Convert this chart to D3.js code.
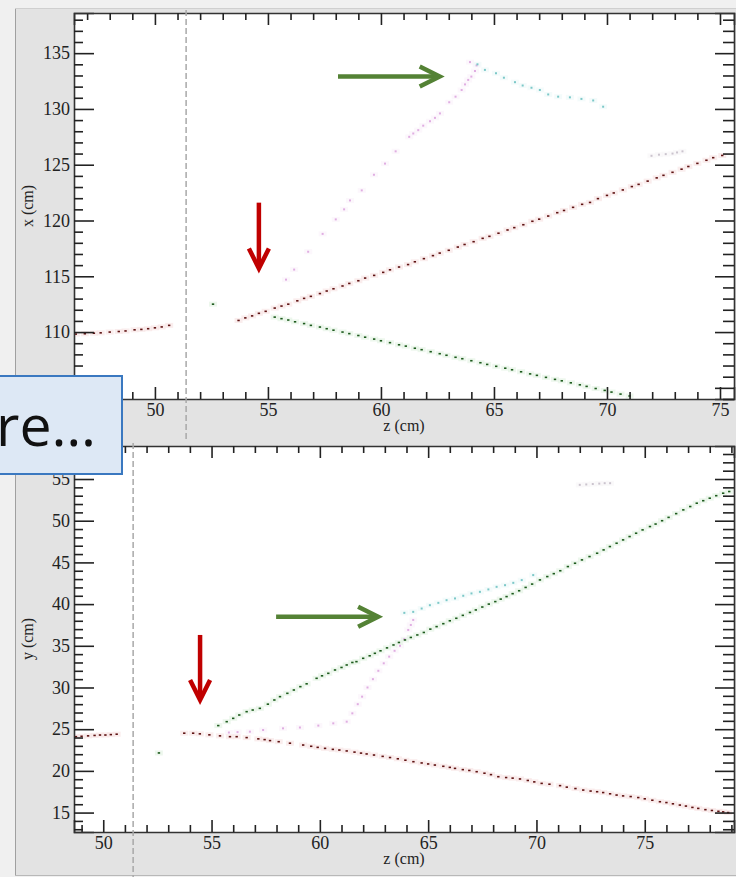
<!DOCTYPE html>
<html>
<head>
<meta charset="utf-8">
<script src="https://cdn.jsdelivr.net/npm/d3@7"></script>
<style>
  body { margin: 0; background: #f0f0f0; }
  svg { display: block; }
</style>
</head>
<body>
<svg id="chart" width="736" height="877"></svg>
<script>
// ---- top panel: x vs z ----
const topRedLeft = [[46.5,109.82],[46.9,109.85],[47.3,109.9],[47.6,109.93],[48.0,110.0],[48.4,110.05],[48.7,110.1],[49.1,110.2],[49.4,110.24],[49.7,110.3],[50.0,110.38],[50.3,110.46],[50.63,110.6]];
const topRedMain = [[53.7,111.04],[54.0,111.27],[54.3,111.45],[54.6,111.68],[54.9,111.86],[55.3,112.15],[55.6,112.33],[55.9,112.5],[56.3,112.8],[56.6,113.02],[56.9,113.2],[57.3,113.45],[57.6,113.68],[57.9,113.88],[58.3,114.13],[58.6,114.36],[59.0,114.6],[59.3,114.84],[59.7,115.08],[60.1,115.35],[60.4,115.58],[60.8,115.83],[61.2,116.05],[61.5,116.3],[61.9,116.58],[62.3,116.85],[62.6,117.08],[63.0,117.33],[63.4,117.62],[63.7,117.85],[64.1,118.1],[64.5,118.4],[64.8,118.58],[65.2,118.86],[65.6,119.15],[65.9,119.36],[66.3,119.62],[66.7,119.93],[67.0,120.12],[67.4,120.4],[67.8,120.7],[68.1,120.9],[68.5,121.18],[68.9,121.45],[69.25,121.62],[69.6,121.96],[70.0,122.25],[70.3,122.47],[70.7,122.74],[71.1,123.04],[71.4,123.24],[71.8,123.53],[72.2,123.82],[72.5,124.05],[72.9,124.32],[73.3,124.6],[73.6,124.84],[74.0,125.12],[74.4,125.4],[74.7,125.63],[75.1,125.83]];
const topGreen = [[55.3,111.34],[55.6,111.2],[55.9,111.08],[56.2,110.92],[56.6,110.76],[56.9,110.6],[57.3,110.45],[57.6,110.3],[57.9,110.17],[58.3,110.0],[58.6,109.86],[59.0,109.69],[59.3,109.54],[59.7,109.37],[60.0,109.22],[60.4,109.05],[60.8,108.86],[61.1,108.74],[61.5,108.55],[61.8,108.42],[62.2,108.24],[62.6,108.06],[62.9,107.92],[63.3,107.74],[63.6,107.61],[64.0,107.43],[64.4,107.25],[64.7,107.1],[65.1,106.93],[65.5,106.76],[65.8,106.62],[66.2,106.44],[66.6,106.25],[66.9,106.12],[67.3,105.94],[67.7,105.76],[68.0,105.63],[68.4,105.45],[68.8,105.27],[69.1,105.13],[69.5,104.94],[69.9,104.77],[70.2,104.62],[70.6,104.44],[71.0,104.27]];
const topGreenDot = [[52.57,112.5]];
const topPink = [[55.8,114.7],[56.16,115.6],[56.78,117.2],[57.42,118.8],[58.0,120.1],[58.37,121.0],[58.63,121.8],[59.15,122.7],[59.69,124.1],[60.18,125.1],[60.65,126.2],[61.25,127.5],[61.43,127.8],[61.65,128.1],[61.87,128.5],[62.17,128.9],[62.39,129.2],[62.61,129.6],[63.02,130.6],[63.3,131.1],[63.57,131.7],[63.72,132.2],[63.86,132.6],[64.0,132.9],[64.16,133.4],[64.23,133.9],[63.94,134.2]];
const topCyan = [[64.27,134.0],[64.6,133.5],[65.09,133.2],[65.44,132.8],[65.93,132.4],[66.27,132.1],[66.66,131.9],[67.03,131.7],[67.4,131.3],[67.84,131.1],[68.36,131.04],[68.87,130.9],[69.39,130.76],[69.83,130.2]];
const topGray = [[71.97,125.8],[72.3,125.9],[72.6,125.95],[72.9,126.0],[73.1,126.1],[73.34,126.2]];

// ---- bottom panel: y vs z ----
const botRedLeft = [[48.74,24.1],[49.0,24.15],[49.3,24.2],[49.6,24.25],[49.85,24.3],[50.1,24.3],[50.35,24.35],[50.62,24.4]];
const botRedMain = [[53.74,24.52],[54.15,24.52],[54.46,24.44],[54.9,24.32],[55.39,24.2],[55.85,24.1],[56.16,24.1],[56.62,23.99],[57.16,23.84],[57.45,23.75],[57.7,23.63],[58.1,23.5],[58.62,23.32],[59.23,23.1],[59.6,22.95],[59.9,22.82],[60.24,22.7],[60.6,22.58],[60.9,22.5],[61.24,22.39],[61.6,22.25],[61.9,22.13],[62.16,22.03],[62.5,21.9],[62.9,21.74],[63.24,21.6],[63.6,21.45],[63.95,21.28],[64.32,21.1],[64.7,20.95],[65.0,20.83],[65.31,20.7],[65.7,20.55],[66.0,20.42],[66.24,20.3],[66.6,20.15],[66.9,20.05],[67.24,19.9],[67.6,19.72],[67.9,19.55],[68.24,19.3],[68.6,19.2],[68.9,19.13],[69.24,19.03],[69.6,18.85],[69.9,18.68],[70.24,18.5],[70.6,18.4],[71.09,18.23],[71.4,18.05],[71.8,17.88],[72.16,17.7],[72.5,17.58],[72.8,17.5],[73.08,17.4],[73.4,17.25],[73.7,17.1],[74.0,17.0],[74.35,16.92],[74.7,16.8],[75.0,16.65],[75.35,16.48],[75.7,16.3],[76.0,16.2],[76.3,16.05],[76.62,15.9],[76.9,15.78],[77.2,15.62],[77.47,15.5],[77.8,15.35],[78.1,15.25],[78.4,15.15],[78.62,15.08],[78.85,15.0]];
const botGreen = [[55.31,25.43],[55.7,25.9],[56.0,26.3],[56.28,26.7],[56.62,27.1],[56.9,27.3],[57.23,27.5],[57.6,28.0],[57.9,28.5],[58.16,28.9],[58.5,29.3],[58.8,29.7],[59.1,30.1],[59.39,30.44],[59.85,31.1],[60.1,31.4],[60.39,31.7],[60.7,32.1],[61.0,32.4],[61.24,32.7],[61.5,33.0],[61.69,33.1],[62.0,33.5],[62.3,33.8],[62.54,34.1],[62.8,34.4],[63.1,34.75],[63.4,35.1],[63.65,35.4],[63.93,35.7],[64.2,36.0],[64.5,36.3],[64.8,36.6],[65.1,37.0],[65.39,37.3],[65.7,37.65],[66.0,38.0],[66.3,38.3],[66.6,38.65],[66.93,39.0],[67.2,39.3],[67.5,39.65],[67.8,40.0],[68.1,40.3],[68.35,40.6],[68.62,40.9],[68.9,41.25],[69.2,41.6],[69.5,42.0],[69.8,42.4],[70.16,42.9],[70.5,43.3],[70.8,43.65],[71.1,44.0],[71.45,44.5],[71.78,44.9],[72.1,45.3],[72.45,45.7],[72.8,46.1],[73.1,46.5],[73.39,46.9],[73.7,47.3],[74.0,47.7],[74.3,48.1],[74.6,48.5],[74.9,48.9],[75.24,49.3],[75.5,49.6],[75.8,50.0],[76.1,50.4],[76.45,50.85],[76.78,51.3],[77.1,51.7],[77.4,52.1],[77.7,52.4],[78.0,52.7],[78.3,53.0],[78.62,53.3],[78.9,53.5]];
const botGreenDot = [[52.57,22.15]];
const botPink = [[55.8,24.6],[56.2,24.65],[56.77,24.7],[57.38,24.9],[58.3,25.1],[59.08,25.2],[59.93,25.43],[60.62,25.7],[61.24,25.9],[61.5,26.9],[61.75,28.0],[61.95,28.9],[62.2,30.0],[62.45,31.0],[62.7,32.0],[62.95,32.9],[63.2,33.7],[63.45,34.4],[63.7,35.0],[63.9,35.8],[64.08,36.9],[64.2,37.5],[64.31,38.1]];
const botCyan = [[63.9,38.95],[64.31,39.07],[64.7,39.47],[65.08,39.87],[65.47,40.15],[65.85,40.47],[66.24,40.68],[66.62,41.0],[67.0,41.28],[67.39,41.47],[67.78,41.76],[68.16,42.07],[68.55,42.27],[68.93,42.55],[69.32,42.88],[69.85,43.48]];
const botGray = [[72.0,54.3],[72.3,54.35],[72.6,54.4],[72.9,54.45],[73.15,54.5],[73.4,54.5]];

// dashed marker position (z) and annotation arrows in data units
const dashZ = 51.38;
const topArrows = [{from: [58.1, 132.9], to: [62.6, 132.9], color: '#548235'}, {from: [54.6, 121.6], to: [54.6, 115.7], color: '#c00000'}];
const botArrows = [{from: [57.98, 38.47], to: [62.69, 38.47], color: '#548235'}, {from: [54.47, 36.3], to: [54.47, 28.5], color: '#c00000'}];

const styles = {
  red:   {core: '#5e1212', halo: '#f8e6e6', w: 2.4, h: 1.6},
  green: {core: '#1c5a1c', halo: '#e6f4e6', w: 2.4, h: 1.6},
  pink:  {core: '#e0aee2', halo: '#fbf3fb', w: 2, h: 2},
  cyan:  {core: '#7cc8c8', halo: '#f0f9f9', w: 2, h: 2},
  gray:  {core: '#cbc4ce', halo: '#f8f6f8', w: 2, h: 2}
};

const svg = d3.select('#chart');

// frames
svg.append('rect').attr('x', 15).attr('y', 8).attr('width', 740).attr('height', 436).attr('fill', '#e3e3e3');
svg.append('rect').attr('x', 15).attr('y', 443).attr('width', 740).attr('height', 432).attr('fill', '#e3e3e3');
svg.append('line').attr('x1', 15.5).attr('x2', 15.5).attr('y1', 8).attr('y2', 875).attr('stroke', '#a0a0a0');
svg.append('line').attr('x1', 15).attr('x2', 736).attr('y1', 8.5).attr('y2', 8.5).attr('stroke', '#cfcfcf');
svg.append('line').attr('x1', 15).attr('x2', 736).attr('y1', 875.5).attr('y2', 875.5).attr('stroke', '#b8b8b8');

function panel(opts) {
  const x = d3.scaleLinear().domain(opts.zDomain).range([74, 734]);
  const y = d3.scaleLinear().domain(opts.vDomain).range([opts.bottom, opts.top]);
  const g = svg.append('g');
  const id = 'clip' + opts.top;
  g.append('clipPath').attr('id', id).append('rect')
    .attr('x', 74).attr('y', opts.top).attr('width', 660).attr('height', opts.bottom - opts.top);
  g.append('rect').attr('x', 74).attr('y', opts.top).attr('width', 660).attr('height', opts.bottom - opts.top).attr('fill', '#fff');

  const marks = g.append('g').attr('clip-path', `url(#${id})`);
  opts.tracks.forEach(t => {
    const s = styles[t.style];
    marks.selectAll(null).data(t.pts).enter().append('rect')
      .attr('x', d => x(d[0]) - 4).attr('y', d => y(d[1]) - 2.5)
      .attr('width', 8).attr('height', 5).attr('fill', s.halo).attr('opacity', 0.7);
  });
  opts.tracks.forEach(t => {
    const s = styles[t.style];
    marks.selectAll(null).data(t.pts).enter().append('rect')
      .attr('x', d => x(d[0]) - s.w / 2).attr('y', d => y(d[1]) - s.h / 2)
      .attr('width', s.w).attr('height', s.h).attr('fill', s.core);
  });

  const zMajor = d3.range(Math.ceil(opts.zDomain[0] / 5) * 5, opts.zDomain[1], 5);
  const zMinor = d3.range(Math.ceil(opts.zDomain[0]), opts.zDomain[1], 1).filter(v => v % 5 !== 0);
  const vMajor = d3.range(Math.ceil(opts.vDomain[0] / 5) * 5, opts.vDomain[1], 5);
  const vMinor = d3.range(Math.ceil(opts.vDomain[0]), opts.vDomain[1], 1).filter(v => v % 5 !== 0);

  const axes = [
    [d3.axisBottom(x), `translate(0,${opts.bottom})`, zMajor, zMinor, 12, 7, true],
    [d3.axisTop(x), `translate(0,${opts.top})`, zMajor, zMinor, 12, 7, false],
    [d3.axisLeft(y), 'translate(74,0)', vMajor, vMinor, 20, 9, true],
    [d3.axisRight(y), 'translate(734,0)', vMajor, vMinor, 19, 11, false]
  ];
  axes.forEach(([ax, tr, major, minor, big, small, labels]) => {
    const maj = g.append('g').attr('transform', tr)
      .call(ax.tickValues(major).tickSize(-big).tickPadding(4).tickFormat(labels ? d3.format('d') : ''));
    g.append('g').attr('transform', tr)
      .call(ax.tickValues(minor).tickSize(-small).tickFormat(''))
      .select('.domain').remove();
    maj.selectAll('text').attr('font-family', '"Liberation Serif", serif').attr('font-size', 18).attr('fill', '#222');
  });
  g.selectAll('.tick line').attr('stroke', '#222').attr('stroke-width', 1.6);
  g.selectAll('.domain').attr('stroke', '#333').attr('stroke-width', 1.6);

  g.append('text').attr('x', 404).attr('y', opts.bottom + 32).attr('text-anchor', 'middle')
    .attr('font-family', '"Liberation Serif", serif').attr('font-size', 16).attr('fill', '#222').text('z (cm)');
  g.append('text').attr('transform', `translate(33,${(opts.top + opts.bottom) / 2}) rotate(-90)`).attr('text-anchor', 'middle')
    .attr('font-family', '"Liberation Serif", serif').attr('font-size', 16).attr('fill', '#222').text(opts.vLabel);

  // dashed vertical line
  g.append('line').attr('x1', x(dashZ)).attr('x2', x(dashZ)).attr('y1', opts.dashY[0]).attr('y2', opts.dashY[1])
    .attr('stroke', '#a9a9a9').attr('stroke-width', 1.5).attr('stroke-dasharray', '6,3');

  // annotation arrows
  opts.arrows.forEach(a => {
    const x0 = x(a.from[0]), y0 = y(a.from[1]), x1 = x(a.to[0]), y1 = y(a.to[1]);
    const ang = Math.atan2(y1 - y0, x1 - x0);
    const L = 20, W = 10;
    const bx = x1 - L * Math.cos(ang), by = y1 - L * Math.sin(ang);
    const px = -Math.sin(ang) * W, py = Math.cos(ang) * W;
    g.append('line').attr('x1', x0).attr('y1', y0).attr('x2', x1 - 2 * Math.cos(ang)).attr('y2', y1 - 2 * Math.sin(ang))
      .attr('stroke', a.color).attr('stroke-width', 4.5);
    g.append('path').attr('d', `M${bx + px},${by + py}L${x1},${y1}L${bx - px},${by - py}`)
      .attr('fill', 'none').attr('stroke', a.color).attr('stroke-width', 4.5);
  });
}

panel({
  zDomain: [46.42, 75.62], vDomain: [104.0, 138.6], top: 13, bottom: 399, vLabel: 'x (cm)', dashY: [10, 442],
  arrows: topArrows,
  tracks: [
    {pts: topGray, style: 'gray'}, {pts: topPink, style: 'pink'}, {pts: topCyan, style: 'cyan'},
    {pts: topRedLeft, style: 'red'}, {pts: topRedMain, style: 'red'},
    {pts: topGreen, style: 'green'}, {pts: topGreenDot, style: 'green'}
  ]
});

panel({
  zDomain: [48.65, 79.12], vDomain: [12.67, 58.96], top: 446, bottom: 832, vLabel: 'y (cm)', dashY: [443, 877],
  arrows: botArrows,
  tracks: [
    {pts: botGray, style: 'gray'}, {pts: botPink, style: 'pink'}, {pts: botCyan, style: 'cyan'},
    {pts: botRedLeft, style: 'red'}, {pts: botRedMain, style: 'red'},
    {pts: botGreen, style: 'green'}, {pts: botGreenDot, style: 'green'}
  ]
});

// overlaid caption box
svg.append('rect').attr('x', -2).attr('y', 376).attr('width', 124).attr('height', 98)
  .attr('fill', '#dde8f5').attr('stroke', '#3a78c0').attr('stroke-width', 2);
svg.append('text').attr('x', -4).attr('y', 446).attr('font-family', '"Open Sans", "Noto Sans", sans-serif')
  .attr('font-size', 57).attr('fill', '#111').attr('textLength', 100).attr('lengthAdjust', 'spacingAndGlyphs').text('re…');
</script>
</body>
</html>
